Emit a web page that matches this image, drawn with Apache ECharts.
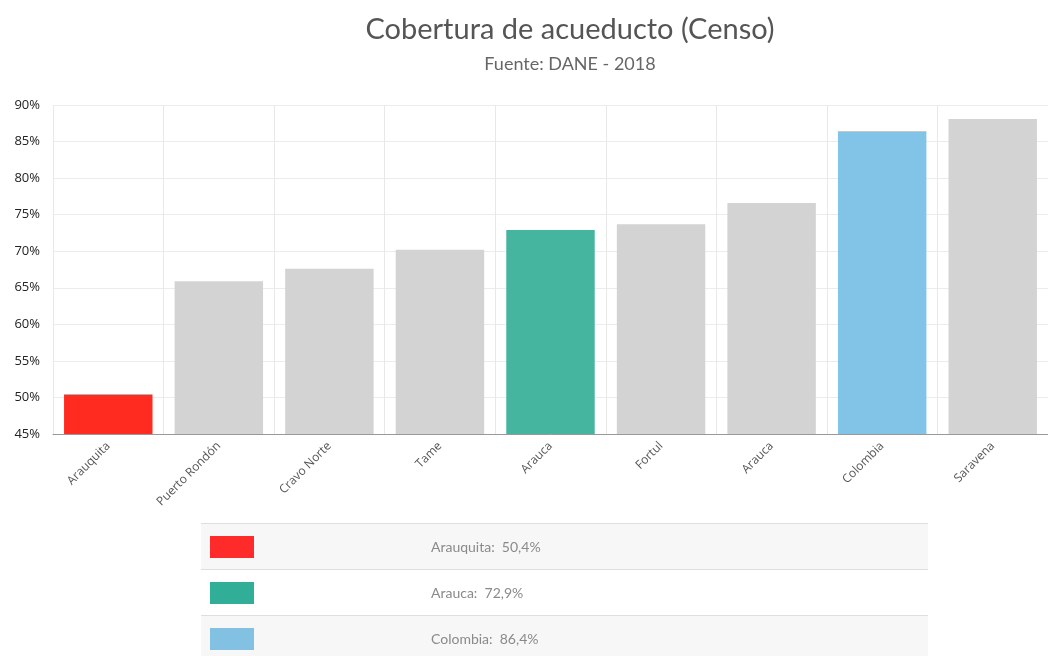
<!DOCTYPE html>
<html>
<head>
<meta charset="utf-8">
<script src="https://cdn.jsdelivr.net/npm/echarts@6/dist/echarts.min.js"></script>
<style>
  html, body { margin: 0; padding: 0; background: #fff; overflow: hidden; }
  #wrap { position: relative; width: 1048px; height: 656px; overflow: hidden; }
  #chart { width: 1048px; height: 656px; }
  #ref { position: absolute; left: 201px; top: 523px; width: 727px; border-collapse: collapse;
         font-family: Lato, 'Open Sans', sans-serif; font-size: 14px; color: #8a8a8a; }
  #ref td { height: 45px; border-top: 1px solid #dedede; padding: 0; }
  #ref tr:nth-child(odd) td { background: #f7f7f7; }
  #ref .sw { width: 44px; height: 22px; margin-left: 9px; }
</style>
</head>
<body>
<div id="wrap">
  <div id="chart"></div>
  <table id="ref"></table>
</div>
<script>
var categories = ['Arauquita', 'Puerto Rondón', 'Cravo Norte', 'Tame', 'Arauca', 'Fortul', 'Arauca', 'Colombia', 'Saravena']
var coverage = [50.4, 65.9, 67.6, 70.2, 72.9, 73.7, 76.6, 86.4, 88.1]
var barColors = ['#ff2a20', '#d3d3d3', '#d3d3d3', '#d3d3d3', '#45b5a0', '#d3d3d3', '#d3d3d3', '#82c4e8', '#d3d3d3']

// rows of the little table under the chart
var refNames = ['Arauquita', 'Arauca', 'Colombia']
var refValues = ['50,4%', '72,9%', '86,4%']
var refColors = ['#ff2a2a', '#30ae98', '#83c1e3']

var table = document.getElementById('ref')
refNames.forEach(function (name, i) {
  var tr = document.createElement('tr')
  tr.innerHTML = '<td style="width:230px"><div class="sw" style="background:' + refColors[i] + '"></div></td>' +
    '<td>' + name + ':&nbsp; ' + refValues[i] + '</td>'
  table.appendChild(tr)
})

var chart = echarts.init(document.getElementById('chart'))
chart.setOption({
  animation: false,
  title: {
    text: 'Cobertura de acueducto (Censo)',
    subtext: 'Fuente: DANE - 2018',
    left: 565,
    top: 10,
    textAlign: 'center',
    itemGap: 11,
    textStyle: { fontFamily: 'Lato', fontWeight: 'normal', fontSize: 29, color: '#555' },
    subtextStyle: { fontFamily: 'Lato', fontSize: 18, color: '#666' }
  },
  // the plot runs a little past the right edge in the reference
  grid: { left: 53, right: -9, top: 105, bottom: 222 },
  xAxis: {
    type: 'category',
    data: categories,
    axisLine: { lineStyle: { color: '#999' } },
    axisTick: { alignWithLabel: true, lineStyle: { color: '#999' } },
    axisLabel: { rotate: 45, color: '#555', fontFamily: 'Open Sans', fontSize: 12, margin: 10 },
    splitLine: { show: true, lineStyle: { color: '#e8e8e8' } }
  },
  yAxis: {
    type: 'value',
    min: 45,
    max: 90,
    interval: 5,
    axisLine: { show: false },
    axisTick: { show: false },
    axisLabel: { formatter: '{value}%', color: '#222', fontFamily: 'Open Sans', fontSize: 13, margin: 13 },
    splitLine: { lineStyle: { color: '#ececec' } }
  },
  series: [{
    type: 'bar',
    barWidth: '80%',
    data: coverage.map(function (v, i) {
      return { value: v, itemStyle: { color: barColors[i] } }
    })
  }]
})
</script>
</body>
</html>
